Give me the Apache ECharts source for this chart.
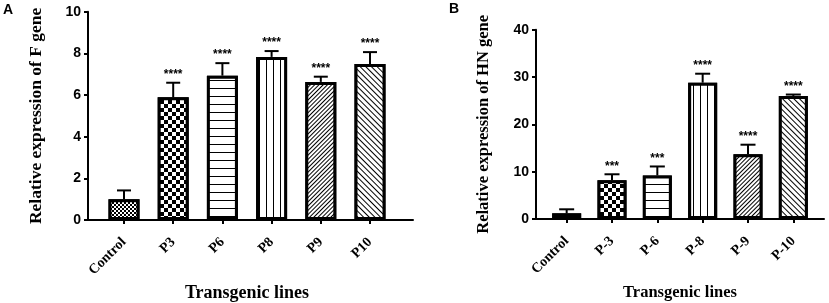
<!DOCTYPE html>
<html>
<head>
<meta charset="utf-8">
<script src="https://cdn.jsdelivr.net/npm/echarts@6/dist/echarts.min.js"></script>
<style>
  html, body { margin: 0; padding: 0; background: #fff; }
  #main { width: 829px; height: 303px; }
</style>
</head>
<body>
<div id="main"></div>
<script>
// panel A: F gene
var catsA = ["Control", "P3", "P6", "P8", "P9", "P10"];
var meanA = [1.0, 5.89, 6.93, 7.83, 6.63, 7.49];
var errA = [0.42, 0.7, 0.6, 0.28, 0.25, 0.57];
var starsA = ["", "****", "****", "****", "****", "****"];
var ticksA = { min: 0, max: 10, interval: 2 };

// panel B: HN gene
var catsB = ["Control", "P-3", "P-6", "P-8", "P-9", "P-10"];
var meanB = [1.2, 8.2, 9.2, 28.8, 13.7, 26.0];
var errB = [0.85, 1.25, 1.9, 1.9, 2.0, 0.3];
var starsB = ["", "***", "***", "****", "****", "****"];
var ticksB = { min: 0, max: 40, interval: 10 };

var SERIF = "Liberation Serif";
var SANS = "Liberation Sans";

// fill patterns, same order for both panels
function checker(s) {
    return { symbol: "rect", symbolSize: 1, color: "#000", backgroundColor: "#fff",
        dashArrayX: [[s, s], [0, s, s, 0]], dashArrayY: [s, 0] };
}
function stripes(gap, rot) {
    return { symbol: "rect", symbolSize: 1, color: "#000", backgroundColor: "#fff",
        dashArrayX: [1, 0], dashArrayY: [1, gap], rotation: rot };
}
var decals = [
    checker(2),
    checker(3.5),
    stripes(6.5, 0),
    { symbol: "rect", symbolSize: 1, color: "#000", backgroundColor: "#fff", dashArrayX: [1, 5.2], dashArrayY: [1, 0] },
    stripes(1.8, -Math.PI / 4),
    stripes(2.3, Math.PI / 4),
];

function barData(vals) {
    return vals.map(function (v, i) {
        return { value: v, itemStyle: { decal: decals[i] } };
    });
}

function errRender(stars, capW) {
    return function (params, api) {
        var i = api.value(0), m = api.value(1), e = api.value(2);
        var top = api.coord([i, m]);
        var hi = api.coord([i, m + e]);
        var ln = { stroke: "#000", lineWidth: 2 };
        return {
            type: "group",
            children: [
                { type: "line", shape: { x1: top[0], y1: top[1], x2: hi[0], y2: hi[1] }, style: ln },
                { type: "line", shape: { x1: hi[0] - capW / 2, y1: hi[1], x2: hi[0] + capW / 2, y2: hi[1] }, style: ln },
                { type: "text", x: hi[0], y: hi[1] - 8,
                  style: { text: stars[params.dataIndex], fill: "#000", font: "bold 12px " + SANS,
                           textAlign: "center", textVerticalAlign: "middle" } },
            ],
        };
    };
}

function frameY(gi, t, name, fs, gap) {
    return {
        gridIndex: gi, type: "value", min: t.min, max: t.max, interval: t.interval,
        name: name, nameLocation: "middle", nameGap: gap, nameRotate: 90,
        nameTextStyle: { fontFamily: SERIF, fontWeight: "bold", fontSize: fs, color: "#000" },
        axisLine: { show: true, lineStyle: { color: "#000", width: 2 } },
        axisTick: { show: true, length: 4, lineStyle: { color: "#000", width: 2 } },
        axisLabel: { color: "#000", fontFamily: SANS, fontWeight: "bold", fontSize: 14, margin: 7 },
        splitLine: { show: false },
    };
}
function frameX(gi) {
    return {
        gridIndex: gi, type: "value", min: 0, max: 1,
        axisLine: { show: true, onZero: false, lineStyle: { color: "#000", width: 2 } },
        axisTick: { show: false }, axisLabel: { show: false }, splitLine: { show: false },
    };
}
function barX(gi, cats, fs, nfs, ngap) {
    return {
        gridIndex: gi, type: "category", data: cats,
        name: "Transgenic lines", nameLocation: "middle", nameGap: ngap,
        nameTextStyle: { fontFamily: SERIF, fontWeight: "bold", fontSize: nfs, color: "#000" },
        axisLine: { show: false },
        axisTick: { show: true, alignWithLabel: true, length: 4, lineStyle: { color: "#000", width: 2 } },
        axisLabel: { color: "#000", fontFamily: SERIF, fontWeight: "bold", fontSize: fs, rotate: 45, margin: 20, interval: 0 },
    };
}
function barY(gi, t) {
    return { gridIndex: gi, type: "value", min: t.min, max: t.max, interval: t.interval, show: false };
}

var chartDom = document.getElementById("main");
var myChart = echarts.init(chartDom);
var option = {
    backgroundColor: "#fff",
    animation: false,
    title: [
        { text: "A", left: 3, top: 3, padding: 0, textStyle: { fontFamily: SANS, fontWeight: "bold", fontSize: 14, color: "#000" } },
        { text: "B", left: 449, top: 2, padding: 0, textStyle: { fontFamily: SANS, fontWeight: "bold", fontSize: 14, color: "#000" } },
    ],
    grid: [
        { left: 88, width: 325, top: 11.7, height: 208.3, outerBoundsMode: "none" },
        { left: 99.4, width: 295.2, top: 11.7, height: 208.3, outerBoundsMode: "none" },
        { left: 536, width: 288, top: 29.7, height: 189.3, outerBoundsMode: "none" },
        { left: 544, width: 272, top: 29.7, height: 189.3, outerBoundsMode: "none" },
    ],
    xAxis: [frameX(0), barX(1, catsA, 14, 18, 64), frameX(2), barX(3, catsB, 14, 16.5, 60)],
    yAxis: [
        frameY(0, ticksA, "Relative expression of F gene", 17.5, 43),
        barY(1, ticksA),
        frameY(2, ticksB, "Relative expression of HN gene", 16.5, 44),
        barY(3, ticksB),
    ],
    series: [
        {
            type: "bar", xAxisIndex: 1, yAxisIndex: 1, barWidth: 31,
            itemStyle: { color: "#fff", borderColor: "#000", borderWidth: 3 },
            data: barData(meanA),
        },
        {
            type: "custom", xAxisIndex: 1, yAxisIndex: 1, z: 5,
            renderItem: errRender(starsA, 14),
            data: meanA.map(function (m, i) { return [i, m, errA[i]]; }),
        },
        {
            type: "bar", xAxisIndex: 3, yAxisIndex: 3, barWidth: 29,
            itemStyle: { color: "#fff", borderColor: "#000", borderWidth: 3 },
            data: barData(meanB),
        },
        {
            type: "custom", xAxisIndex: 3, yAxisIndex: 3, z: 5,
            renderItem: errRender(starsB, 15),
            data: meanB.map(function (m, i) { return [i, m, errB[i]]; }),
        },
    ],
};
option && myChart.setOption(option);
</script>
</body>
</html>
